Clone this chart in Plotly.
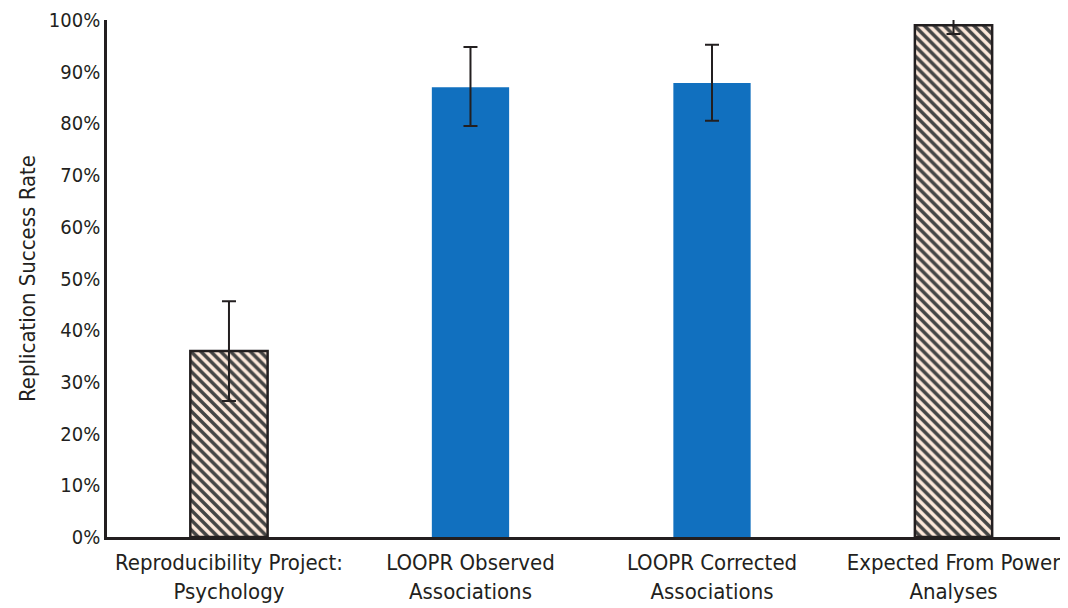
import plotly.graph_objects as go

categories = ["Reproducibility Project:<br>Psychology", "LOOPR Observed<br>Associations",
              "LOOPR Corrected<br>Associations", "Expected From Power<br>Analyses"]
values = [36.0, 87.0, 87.8, 99.0]
err_plus = [9.6, 7.8, 7.4, 2.0]
err_minus = [9.7, 7.5, 7.3, 1.7]
tick_vals = [0, 10, 20, 30, 40, 50, 60, 70, 80, 90, 100]
tick_text = ["0%", "10%", "20%", "30%", "40%", "50%", "60%", "70%", "80%", "90%", "100%"]

hatched = [True, False, False, True]
fill_colors = ["#fde8da" if h else "#1170bf" for h in hatched]
line_colors = ["#231f20" if h else "#1170bf" for h in hatched]
line_widths = [2.5 if h else 0 for h in hatched]
shapes = ["\\" if h else "" for h in hatched]

FONT = "DejaVu Sans Condensed, Roboto, Liberation Sans, sans-serif"
TXT = "#231f20"

fig = go.Figure()
fig.add_trace(go.Bar(
    x=list(range(len(categories))), y=values, width=0.32,
    marker=dict(color=fill_colors, line=dict(color=line_colors, width=line_widths),
                pattern=dict(shape=shapes, fgcolor="#000000", bgcolor="#fde8da",
                             fgopacity=1, size=7, solidity=0.5, fillmode="overlay")),
    error_y=dict(type="data", symmetric=False, array=err_plus, arrayminus=err_minus,
                 color="#231f20", thickness=2, width=7),
    cliponaxis=False,
))
fig.update_layout(
    width=1068, height=608,
    margin=dict(l=99, r=8, t=12, b=79),
    paper_bgcolor="white", plot_bgcolor="white",
    showlegend=False,
    font=dict(family=FONT, color=TXT, size=20),
    xaxis=dict(range=[-0.505, 3.474], tickvals=list(range(len(categories))), ticktext=categories,
               showline=True, linecolor="#231f20", linewidth=2.5, ticks="", showgrid=False,
               tickfont=dict(size=22, family=FONT, color=TXT), zeroline=False, automargin=False,
               ticklabelstandoff=4),
    yaxis=dict(range=[0, 100], tickvals=tick_vals, ticktext=tick_text,
               showline=True, linecolor="#231f20", linewidth=2.5, ticks="", showgrid=False,
               zeroline=False, tickfont=dict(size=20, family=FONT, color=TXT), automargin=False,
               title=dict(text="Replication Success Rate", font=dict(size=22, family=FONT, color=TXT),
                          standoff=8)),
)
fig.write_html("out.html")
